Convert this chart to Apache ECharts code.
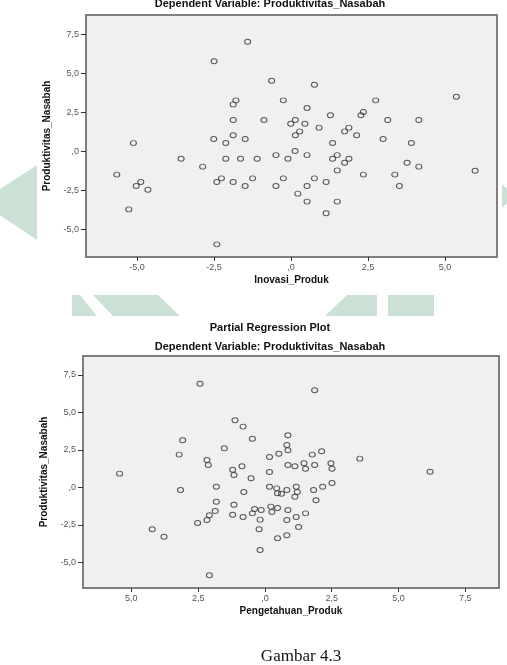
<!DOCTYPE html>
<html>
<head>
<meta charset="utf-8">
<title>Partial Regression Plot</title>
<script src="https://cdn.jsdelivr.net/npm/echarts@6/dist/echarts.min.js"></script>
<style>
  html, body { margin: 0; padding: 0; background: #ffffff; }
  #myChart { width: 507px; height: 665px; }
</style>
</head>
<body>
<div id="myChart"></div>
<script>
// plot 1 : Inovasi_Produk vs Produktivitas_Nasabah (partial residuals)
var inovasiX = [-2.50, -5.12, -3.57, -2.87, -2.51, -2.12, -2.12, -5.66, -4.88, -5.03, -4.65, -5.27, -2.41, -2.26, -2.41,
  -1.41, -0.63, 0.76, -1.79, -1.88, -0.25, 0.52, 1.28, 2.35, 2.27, -1.88, -0.88, 0.14, -0.01, 0.45, 0.91, 0.28, 0.14,
  1.88, 1.74, 2.13, -1.88, -1.49, 1.35, -1.64, -1.10, -0.49, -0.10, 0.13, 0.52, 1.35, 1.50, 1.88, 1.74, 1.50, 2.35,
  -1.88, -1.49, -1.25, -0.49, -0.25, 0.76, 0.52, 1.14, 0.22, 0.52, 1.50, 1.14,
  2.75, 3.14, 4.15, 2.99, 3.91, 3.77, 4.15, 3.37, 3.52, 5.37, 5.98];
var inovasiY = [5.80, 0.55, -0.45, -0.96, 0.81, 0.56, -0.45, -1.47, -1.94, -2.20, -2.44, -3.70, -1.94, -1.71, -5.94,
  7.05, 4.55, 4.29, 3.29, 3.03, 3.29, 2.80, 2.33, 2.54, 2.33, 2.03, 2.03, 2.03, 1.79, 1.79, 1.54, 1.30, 1.05,
  1.54, 1.30, 1.05, 1.05, 0.81, 0.56, -0.45, -0.45, -0.22, -0.45, 0.04, -0.22, -0.45, -0.22, -0.45, -0.71, -1.20, -1.47,
  -1.94, -2.20, -1.71, -2.20, -1.71, -1.71, -2.20, -1.94, -2.69, -3.20, -3.20, -3.95,
  3.29, 2.03, 2.03, 0.81, 0.56, -0.71, -0.96, -1.47, -2.20, 3.52, -1.22];

// plot 2 : Pengetahuan_Produk vs Produktivitas_Nasabah
var pengetahuanX = [-2.43, -3.08, -3.21, -1.52, -2.17, -2.12, -5.44, -3.16, -1.82, -1.82, -1.86, -2.08, -2.17, -2.52,
  -4.22, -3.78, -2.08, 1.86, -1.12, -0.82, -0.47, 0.86, 0.82, 0.86, 0.52, 0.17, 1.77, 2.12, -1.21, -1.16, -0.86,
  -0.52, 0.17, 0.86, 1.12, 1.46, 1.52, 1.86, 2.47, 2.51, 3.55, -0.79, 0.17, 0.44, 0.47, 0.62, 0.82, 1.17, 1.21,
  1.12, 1.82, 2.16, 2.51, 1.91, -1.16, -1.21, -0.82, -0.47, -0.39, -0.14, 0.22, 0.26, 0.47, 0.86, 1.17, 1.52,
  0.82, -0.18, 1.26, -0.22, 0.47, 0.82, -0.18, 6.18];
var pengetahuanY = [6.91, 3.14, 2.18, 2.60, 1.82, 1.49, 0.91, -0.18, 0.04, -0.96, -1.58, -1.87, -2.18, -2.38,
  -2.80, -3.30, -5.87, 6.47, 4.47, 4.05, 3.24, 3.47, 2.82, 2.47, 2.24, 2.02, 2.18, 2.40, 1.17, 0.82, 1.40,
  0.60, 1.02, 1.49, 1.40, 1.60, 1.24, 1.49, 1.60, 1.24, 1.91, -0.31, 0.04, -0.07, -0.40, -0.43, -0.18, 0.04, -0.31,
  -0.63, -0.18, 0.04, 0.29, -0.87, -1.16, -1.83, -1.98, -1.74, -1.45, -1.52, -1.29, -1.65, -1.38, -1.52, -1.98, -1.74,
  -2.18, -2.16, -2.65, -2.80, -3.40, -3.20, -4.18, 1.04];

// tick positions and the labels SPSS prints for them
var x1Ticks = [-5, -2.5, 0, 2.5, 5];
var x1Labels = ['-5,0', '-2,5', ',0', '2,5', '5,0'];
var x2Ticks = [-5, -2.5, 0, 2.5, 5, 7.5];
var x2Labels = ['5,0', '2,5', ',0', '2,5', '5,0', '7,5'];
var yTicks = [-5, -2.5, 0, 2.5, 5, 7.5];
var yLabels = ['-5,0', '-2,5', ',0', '2,5', '5,0', '7,5'];

var wm = '#cce1d6';

function pairs(xs, ys) {
  return xs.map(function (x, i) { return [x, ys[i]]; });
}

function labelFor(ticks, labels) {
  return function (v) {
    for (var i = 0; i < ticks.length; i++) {
      if (Math.abs(ticks[i] - v) < 1e-6) return labels[i];
    }
    return '';
  };
}

function xAxisOf(gridIndex, name, min, max, ticks, labels) {
  return {
    type: 'value',
    gridIndex: gridIndex,
    min: min,
    max: max,
    name: name,
    nameLocation: 'middle',
    nameGap: 18,
    nameTextStyle: { fontFamily: 'Liberation Sans', fontWeight: 'bold', fontSize: 10, color: '#111' },
    axisLine: { show: true, onZero: false, lineStyle: { color: '#7f7f7f', width: 2 } },
    axisTick: { show: true, customValues: ticks, length: 4, lineStyle: { color: '#333' } },
    axisLabel: {
      customValues: ticks, margin: 6, fontSize: 9, fontFamily: 'Liberation Sans', color: '#555',
      formatter: labelFor(ticks, labels)
    },
    splitLine: { show: false }
  };
}

function yAxisOf(gridIndex, min, max, gap) {
  return {
    type: 'value',
    gridIndex: gridIndex,
    min: min,
    max: max,
    name: 'Produktivitas_Nasabah',
    nameLocation: 'middle',
    nameGap: gap,
    nameTextStyle: { fontFamily: 'Liberation Sans', fontWeight: 'bold', fontSize: 10, color: '#111' },
    axisLine: { show: true, onZero: false, lineStyle: { color: '#7f7f7f', width: 2 } },
    axisTick: { show: true, customValues: yTicks, length: 5, lineStyle: { color: '#333' } },
    axisLabel: {
      customValues: yTicks, margin: 7, fontSize: 9, fontFamily: 'Liberation Sans', color: '#555',
      formatter: labelFor(yTicks, yLabels)
    },
    splitLine: { show: false }
  };
}

var myChart = echarts.init(document.getElementById('myChart'));

var titleStyle = { fontFamily: 'Liberation Sans', fontWeight: 'bold', fontSize: 11, color: '#111' };

var option = {
  backgroundColor: '#ffffff',
  animation: false,
  title: [
    { text: 'Dependent Variable: Produktivitas_Nasabah', left: 270, top: -2, textAlign: 'center', padding: 0, textStyle: titleStyle },
    { text: 'Partial Regression Plot', left: 270, top: 322, textAlign: 'center', padding: 0, textStyle: titleStyle },
    { text: 'Dependent Variable: Produktivitas_Nasabah', left: 270, top: 341, textAlign: 'center', padding: 0, textStyle: titleStyle },
    { text: 'Gambar 4.3', left: 301, top: 648, textAlign: 'center', padding: 0,
      textStyle: { fontFamily: 'Liberation Serif', fontWeight: 'normal', fontSize: 17, color: '#111' } }
  ],
  // watermark shapes behind the page
  graphic: [
    { type: 'polygon', z: -10, shape: { points: [[-20, 202], [37, 165], [37, 240]] }, style: { fill: wm } },
    { type: 'polygon', z: -10, shape: { points: [[502, 184], [514, 196], [502, 208]] }, style: { fill: wm } },
    { type: 'polygon', z: -10, shape: { points: [[72, 295], [80, 295], [97, 316], [72, 316]] }, style: { fill: wm } },
    { type: 'polygon', z: -10, shape: { points: [[93, 295], [158, 295], [180, 316], [113, 316]] }, style: { fill: wm } },
    { type: 'polygon', z: -10, shape: { points: [[347, 295], [377, 295], [377, 316], [325, 316]] }, style: { fill: wm } },
    { type: 'rect', z: -10, shape: { x: 388, y: 295, width: 46, height: 21 }, style: { fill: wm } }
  ],
  grid: [
    { left: 86, top: 15, width: 411, height: 242, show: true, backgroundColor: '#f0f0f0', borderColor: '#7f7f7f', borderWidth: 2 },
    { left: 83, top: 356, width: 416, height: 232, show: true, backgroundColor: '#f0f0f0', borderColor: '#7f7f7f', borderWidth: 2 }
  ],
  xAxis: [
    xAxisOf(0, 'Inovasi_Produk', -6.66, 6.69, x1Ticks, x1Labels),
    xAxisOf(1, 'Pengetahuan_Produk', -6.81, 8.76, x2Ticks, x2Labels)
  ],
  yAxis: [
    yAxisOf(0, -6.75, 8.76, 27),
    yAxisOf(1, -6.72, 8.76, 25)
  ],
  series: [
    {
      type: 'scatter',
      xAxisIndex: 0,
      yAxisIndex: 0,
      symbol: 'circle',
      symbolSize: [6, 5],
      itemStyle: { color: 'transparent', borderColor: '#333', borderWidth: 1 },
      data: pairs(inovasiX, inovasiY)
    },
    {
      type: 'scatter',
      xAxisIndex: 1,
      yAxisIndex: 1,
      symbol: 'circle',
      symbolSize: [6, 5],
      itemStyle: { color: 'transparent', borderColor: '#333', borderWidth: 1 },
      data: pairs(pengetahuanX, pengetahuanY)
    }
  ]
};

myChart.setOption(option);
</script>
</body>
</html>
